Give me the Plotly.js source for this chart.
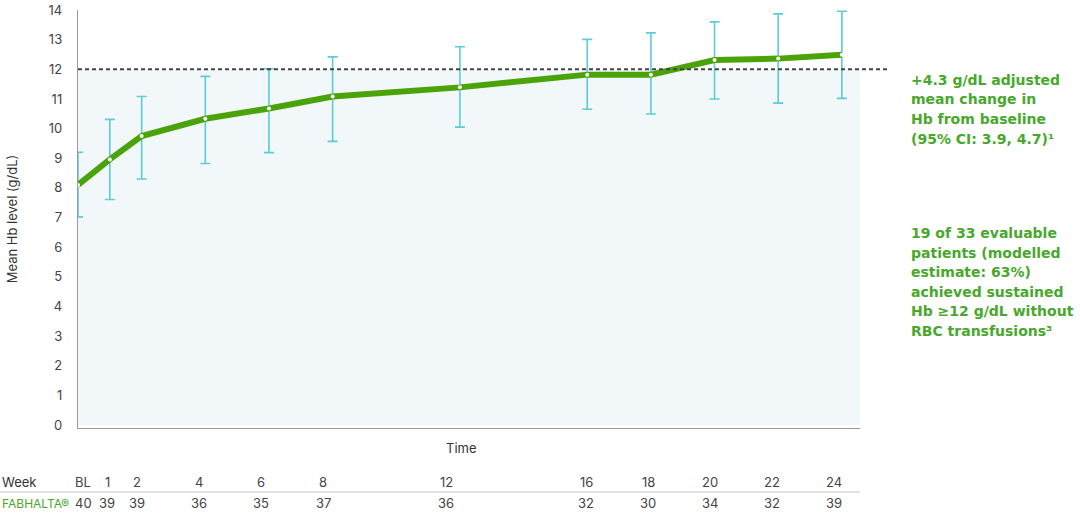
<!DOCTYPE html>
<html>
<head>
<meta charset="utf-8">
<script src="https://cdn.plot.ly/plotly-3.0.1.min.js"></script>
<style>html,body{margin:0;padding:0;background:#fff;}#chart{width:1080px;height:513px;}</style>
</head>
<body>
<div id="chart"></div>
<script>
// ---- data ----
const weeks = [0, 1, 2, 4, 6, 8, 12, 16, 18, 20, 22, 24];
const weekLabels = ["BL", "1", "2", "4", "6", "8", "12", "16", "18", "20", "22", "24"];
const meanHb = [8.10, 8.96, 9.75, 10.33, 10.68, 11.08, 11.39, 11.82, 11.82, 12.31, 12.36, 12.49];
const ciUpper = [9.20, 10.31, 11.08, 11.76, 12.02, 12.42, 12.76, 13.01, 13.23, 13.60, 13.87, 13.96];
const ciLower = [7.02, 7.61, 8.30, 8.82, 9.19, 9.57, 10.05, 10.65, 10.49, 11.00, 10.86, 11.02];
const patientsN = ["40", "39", "39", "36", "35", "37", "36", "32", "30", "34", "32", "39"];
const threshold = 12;
const yTicks = [0,1,2,3,4,5,6,7,8,9,10,11,12,13,14];
const noteA = ["+4.3 g/dL adjusted", "mean change in", "Hb from baseline", "(95% CI: 3.9, 4.7)¹"];
const noteB = ["19 of 33 evaluable", "patients (modelled", "estimate: 63%)", "achieved sustained", "Hb ≥12 g/dL without", "RBC transfusions³"];

// ---- layout helpers (pixel positions) ----
const W = 1080, H = 513;
const mL = 78, mR = 220, mT = 10, mB = 85;
const plotW = W - mL - mR, plotH = H - mT - mB;
const px2paperX = p => (p - mL) / plotW;
const px2paperY = p => (H - mB - p) / plotH;
const tableColPx = [83, 107, 137, 199, 261, 323, 446, 586, 648, 710, 772, 834];
const noteAStartPx = 80, noteBStartPx = 233, noteLineGap = 19.5;

const green = "#4BA30A";
const textGreen = "#47A82C";
const teal = "#5CCCD6";
const font = "Inter, 'Open Sans', sans-serif";
const noteFont = "'DejaVu Sans', sans-serif";

const plusArr = meanHb.map((m, i) => ciUpper[i] - m);
const minusArr = meanHb.map((m, i) => m - ciLower[i]);

const trace = {
  x: weeks, y: meanHb, type: "scatter", mode: "lines+markers",
  line: {color: green, width: 6},
  marker: {color: "#ffffff", size: 4, line: {width: 0}},
  error_y: {type: "data", symmetric: false, array: plusArr, arrayminus: minusArr,
            color: teal, thickness: 1.6, width: 5},
  cliponaxis: false, hoverinfo: "skip"
};

const annotations = [];
function addText(xpx, ypx, text, opts) {
  annotations.push(Object.assign({xref: "paper", yref: "paper", x: px2paperX(xpx), y: px2paperY(ypx),
    text: text, showarrow: false, xanchor: "center", yanchor: "middle"}, opts));
}
addText(461, 448, "Time", {font: {family: font, size: 13, color: "#333"}});
addText(0, 482, "Week", {xanchor: "left", font: {family: font, size: 13, color: "#333"}});
addText(0, 503, "FABHALTA®", {xanchor: "left", font: {family: font, size: 12, color: textGreen}});
weekLabels.forEach((lab, i) => {
  addText(tableColPx[i], 482, lab, {font: {family: font, size: 13, color: "#444"}});
  addText(tableColPx[i], 503, patientsN[i], {font: {family: font, size: 13, color: "#444"}});
});
noteA.forEach((t, i) => addText(909, noteAStartPx + i * noteLineGap, t,
  {xanchor: "left", font: {family: noteFont, size: 14, color: textGreen, weight: 700}}));
noteB.forEach((t, i) => addText(909, noteBStartPx + i * noteLineGap, t,
  {xanchor: "left", font: {family: noteFont, size: 14, color: textGreen, weight: 700}}));

const layout = {
  width: W, height: H,
  margin: {l: mL, r: mR, t: mT, b: mB},
  paper_bgcolor: "#fff", plot_bgcolor: "#fff",
  showlegend: false,
  xaxis: {range: [0, 24.57], showgrid: false, zeroline: false, showticklabels: false,
          showline: true, linecolor: "#9a9a9a", linewidth: 1.2, ticks: ""},
  yaxis: {range: [-0.1, 14], tickvals: yTicks, showgrid: false, zeroline: false,
          showline: true, linecolor: "#9a9a9a", linewidth: 1.2, ticks: "", ticklabelstandoff: 12,
          tickfont: {family: font, size: 13, color: "#444"},
          title: {text: "Mean Hb level (g/dL)", font: {family: font, size: 13, color: "#333"}, standoff: 28}},
  shapes: [
    {type: "rect", xref: "paper", yref: "y", x0: 0, x1: 1, y0: 0, y1: threshold,
     fillcolor: "#F2F7F9", line: {width: 0}, layer: "below"},
    {type: "line", xref: "paper", yref: "y", x0: 0, x1: px2paperX(889), y0: threshold, y1: threshold,
     line: {color: "#444", width: 2, dash: "4px,3px"}},
    {type: "line", xref: "paper", yref: "paper", x0: px2paperX(0), x1: 1, y0: px2paperY(492), y1: px2paperY(492),
     line: {color: "#d8d8d8", width: 1.5}}
  ],
  annotations: annotations
};

Plotly.newPlot("chart", [trace], layout, {displayModeBar: false, staticPlot: true});
</script>
</body>
</html>
